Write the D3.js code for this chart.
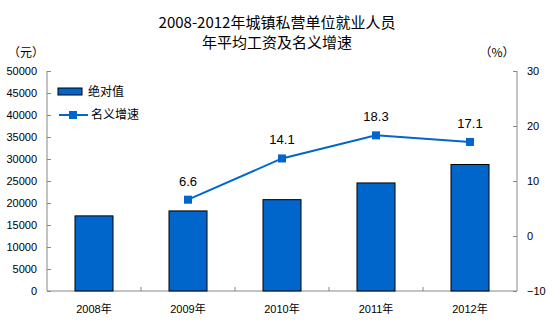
<!DOCTYPE html>
<html><head><meta charset="utf-8">
<script src="https://cdn.jsdelivr.net/npm/d3@7"></script>
<style>body{margin:0;background:#fff}svg{display:block;font-family:"Liberation Sans","Noto Sans CJK SC",sans-serif}</style>
</head><body><div id="chart"></div>
<script>
const categories = ["2008年","2009年","2010年","2011年","2012年"];
const wages = [17071, 18199, 20759, 24556, 28752];
const growth = [null, 6.6, 14.1, 18.3, 17.1];
const leftTicks = [0,5000,10000,15000,20000,25000,30000,35000,40000,45000,50000];
const rightTicks = [-10,0,10,20,30];
const titleLines = ["2008-2012年城镇私营单位就业人员","年平均工资及名义增速"];
const seriesNames = ["绝对值","名义增速"];

const W=554,H=324;
const m={l:47,r:37,t:71,b:33};
const svg=d3.select("#chart").append("svg").attr("width",W).attr("height",H);
const x=d3.scaleBand().domain(categories).range([m.l,W-m.r]).paddingInner(0).paddingOuter(0);
const yL=d3.scaleLinear().domain([0,50000]).range([H-m.b,m.t]);
const yR=d3.scaleLinear().domain([-10,30]).range([H-m.b,m.t]);
const blue="#0066CC";
const cjk='"Noto Sans CJK SC",sans-serif';

// title
svg.append("g").selectAll("text").data(titleLines).join("text")
 .attr("x",277).attr("y",(d,i)=>28+i*20).attr("text-anchor","middle")
 .style("font-family",cjk).style("font-size","15px").attr("fill","#000").text(d=>d);
svg.append("text").attr("x",26).attr("y",57).attr("text-anchor","middle").style("font-family",cjk).style("font-size","12px").text("（元）");
svg.append("text").attr("x",497).attr("y",57).attr("text-anchor","middle").style("font-family",cjk).style("font-size","12px").text("（%）");

// plot frame axes
const gray="#888";
svg.append("line").attr("x1",m.l).attr("x2",m.l).attr("y1",m.t).attr("y2",H-m.b).attr("stroke",gray);
svg.append("line").attr("x1",W-m.r).attr("x2",W-m.r).attr("y1",m.t).attr("y2",H-m.b).attr("stroke",gray);
svg.append("line").attr("x1",m.l).attr("x2",W-m.r).attr("y1",H-m.b).attr("y2",H-m.b).attr("stroke",gray);

const axL=d3.axisLeft(yL).tickValues(leftTicks).tickSize(-4).tickPadding(10).tickFormat(d3.format("d"));
const gL=svg.append("g").attr("transform",`translate(${m.l},0)`).call(axL);
gL.select(".domain").remove();
gL.selectAll("line").attr("stroke",gray);
gL.selectAll("text").style("font-size","11px").attr("fill","#000");

const axR=d3.axisRight(yR).tickValues(rightTicks).tickSize(-4).tickPadding(10);
const gR=svg.append("g").attr("transform",`translate(${W-m.r},0)`).call(axR);
gR.select(".domain").remove();
gR.selectAll("line").attr("stroke",gray);
gR.selectAll("text").style("font-size","11px").attr("fill","#000");

// x ticks at band boundaries
const bounds=categories.slice(1).map(c=>x(c));
svg.append("g").selectAll("line").data(bounds).join("line")
 .attr("x1",d=>d).attr("x2",d=>d).attr("y1",H-m.b).attr("y2",H-m.b-4).attr("stroke",gray);
svg.append("g").selectAll("text").data(categories).join("text")
 .attr("x",d=>x(d)+x.bandwidth()/2).attr("y",313).attr("text-anchor","middle")
 .style("font-size","11px").text(d=>d);

// bars
const bw=38;
svg.append("g").selectAll("rect").data(wages).join("rect")
 .attr("x",(d,i)=>x(categories[i])+x.bandwidth()/2-bw/2).attr("width",bw)
 .attr("y",d=>yL(d)).attr("height",d=>yL(0)-yL(d))
 .attr("fill",blue).attr("stroke","#000").attr("stroke-width",1);

// line
const pts=growth.map((v,i)=>({v,c:categories[i]})).filter(d=>d.v!==null);
const line=d3.line().x(d=>x(d.c)+x.bandwidth()/2).y(d=>yR(d.v));
svg.append("path").datum(pts).attr("d",line).attr("fill","none").attr("stroke",blue).attr("stroke-width",2);
svg.append("g").selectAll("rect").data(pts).join("rect")
 .attr("x",d=>x(d.c)+x.bandwidth()/2-4).attr("y",d=>yR(d.v)-4).attr("width",8).attr("height",8).attr("fill",blue);
svg.append("g").selectAll("text").data(pts).join("text")
 .attr("x",d=>x(d.c)+x.bandwidth()/2).attr("y",d=>yR(d.v)-14).attr("text-anchor","middle")
 .style("font-size","13px").text(d=>d.v.toFixed(1));

// legend
svg.append("rect").attr("x",58).attr("y",88).attr("width",24).attr("height",7).attr("fill",blue).attr("stroke","#000");
svg.append("text").attr("x",88).attr("y",96).style("font-family",cjk).style("font-size","12px").text(seriesNames[0]);
svg.append("line").attr("x1",59).attr("x2",88).attr("y1",115).attr("y2",115).attr("stroke",blue).attr("stroke-width",2);
svg.append("rect").attr("x",69).attr("y",111).attr("width",8).attr("height",8).attr("fill",blue);
svg.append("text").attr("x",91).attr("y",119).style("font-family",cjk).style("font-size","12px").text(seriesNames[1]);
</script></body></html>
